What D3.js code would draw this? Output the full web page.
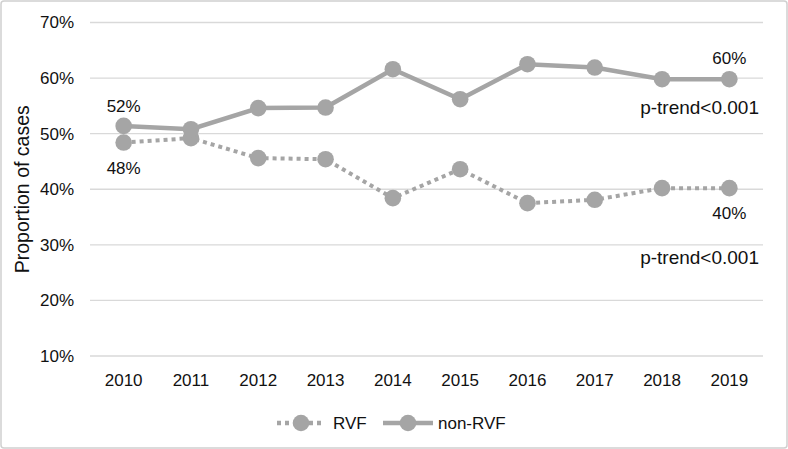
<!DOCTYPE html>
<html>
<head>
<meta charset="utf-8">
<script src="https://cdn.jsdelivr.net/npm/d3@7"></script>
<style>
  body { margin: 0; background: #fff; }
  text { font-family: "Liberation Sans", Arial, sans-serif; fill: #111; }
</style>
</head>
<body>
<div class="chart"></div>
<script>
const years = ['2010', '2011', '2012', '2013', '2014', '2015', '2016', '2017', '2018', '2019'];
const rvf = [48.4, 49.2, 45.6, 45.4, 38.4, 43.6, 37.5, 38.1, 40.2, 40.2];
const nonRvf = [51.4, 50.8, 54.6, 54.7, 61.6, 56.2, 62.5, 61.9, 59.8, 59.8];
const yTicks = [10, 20, 30, 40, 50, 60, 70];

const W = 788, H = 449;
const margin = { top: 22.5, right: 25, bottom: 93, left: 90 };
const width = W - margin.left - margin.right;
const height = H - margin.top - margin.bottom;
const grey = '#a5a5a5';

const root = d3.select('.chart')
  .append('svg')
  .attr('width', W)
  .attr('height', H);

root.append('rect')
  .attr('x', 1).attr('y', 1)
  .attr('width', W - 2).attr('height', H - 2)
  .attr('rx', 3)
  .style('fill', '#fff')
  .style('stroke', '#d0d0d0')
  .style('stroke-width', 1.5);

const svg = root.append('g')
  .attr('transform', `translate(${margin.left}, ${margin.top})`);

const xScale = d3.scaleBand()
  .domain(years)
  .range([0, width]);

const yScale = d3.scaleLinear()
  .domain([10, 70])
  .range([height, 0]);

const cx = d => xScale(d) + xScale.bandwidth() / 2;

// gridlines
svg.append('g')
  .selectAll('line')
  .data(yTicks)
  .enter()
  .append('line')
  .attr('x1', 0).attr('x2', width)
  .attr('y1', d => yScale(d)).attr('y2', d => yScale(d))
  .style('stroke', '#d9d9d9')
  .style('stroke-width', 1.3);

const yAxis = d3.axisLeft(yScale)
  .tickValues(yTicks)
  .tickSize(0)
  .tickPadding(16)
  .tickFormat(d => d + '%');

svg.append('g')
  .call(yAxis)
  .call(g => g.select('.domain').remove())
  .selectAll('text')
  .style('font-size', '17px');

const xAxis = d3.axisBottom(xScale).tickSize(0).tickPadding(18);
svg.append('g')
  .attr('transform', `translate(0, ${height})`)
  .call(xAxis)
  .call(g => g.select('.domain').remove())
  .selectAll('text')
  .style('font-size', '17px');

svg.append('text')
  .attr('transform', `translate(${22 - margin.left}, ${height / 2}) rotate(-90)`)
  .attr('dy', '0.35em')
  .style('text-anchor', 'middle')
  .style('font-size', '19.5px')
  .text('Proportion of cases');

const line = d3.line()
  .x((d, i) => cx(years[i]))
  .y(d => yScale(d));

function drawSeries(vals, dashed) {
  svg.append('path')
    .datum(vals)
    .attr('d', line)
    .style('fill', 'none')
    .style('stroke', grey)
    .style('stroke-width', dashed ? 4 : 4.5)
    .style('stroke-dasharray', dashed ? '4 4' : null);
  svg.append('g')
    .selectAll('circle')
    .data(vals)
    .enter()
    .append('circle')
    .attr('cx', (d, i) => cx(years[i]))
    .attr('cy', d => yScale(d))
    .attr('r', 8.3)
    .style('fill', grey);
}

drawSeries(rvf, true);
drawSeries(nonRvf, false);

// data labels
const labels = [
  { year: '2010', v: nonRvf[0], text: '52%', dy: -20 },
  { year: '2010', v: rvf[0], text: '48%', dy: 25 },
  { year: '2019', v: nonRvf[9], text: '60%', dy: -21 },
  { year: '2019', v: rvf[9], text: '40%', dy: 25 },
];
svg.selectAll('.dlabel')
  .data(labels)
  .enter()
  .append('text')
  .attr('class', 'dlabel')
  .attr('x', d => cx(d.year))
  .attr('y', d => yScale(d.v) + d.dy)
  .attr('dy', '0.35em')
  .style('text-anchor', 'middle')
  .style('font-size', '17px')
  .text(d => d.text);

const trends = [
  { v: nonRvf[9], dy: 28 },
  { v: rvf[9], dy: 69 },
];
svg.selectAll('.trend')
  .data(trends)
  .enter()
  .append('text')
  .attr('class', 'trend')
  .attr('x', width - 4)
  .attr('y', d => yScale(d.v) + d.dy)
  .attr('dy', '0.35em')
  .style('text-anchor', 'end')
  .style('font-size', '19px')
  .text('p-trend<0.001');

// legend
const legend = root.append('g').attr('transform', 'translate(0, 423)');
const items = [
  { name: 'RVF', dashed: true, x0: 277, x1: 325, tx: 333 },
  { name: 'non-RVF', dashed: false, x0: 383, x1: 433, tx: 438 },
];
items.forEach(it => {
  legend.append('line')
    .attr('x1', it.x0).attr('x2', it.x1)
    .style('stroke', grey)
    .style('stroke-width', 4.5)
    .style('stroke-dasharray', it.dashed ? '4 4' : null);
  legend.append('circle')
    .attr('cx', (it.x0 + it.x1) / 2)
    .attr('r', 8.3)
    .style('fill', grey);
  legend.append('text')
    .attr('x', it.tx)
    .attr('dy', '0.35em')
    .style('font-size', '17px')
    .text(it.name);
});
</script>
</body>
</html>
